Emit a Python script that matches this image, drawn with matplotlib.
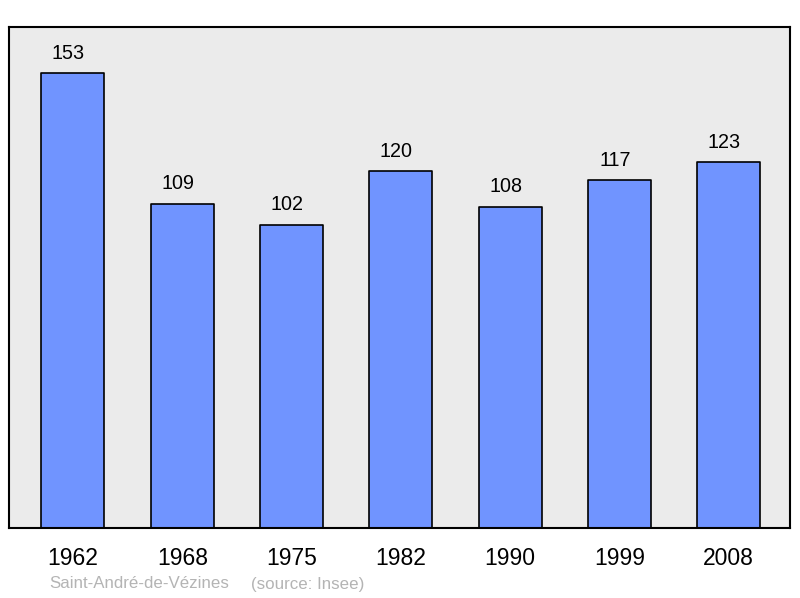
import matplotlib.pyplot as plt

plt.rcParams['font.family'] = ['Liberation Sans', 'DejaVu Sans']

years = ['1962', '1968', '1975', '1982', '1990', '1999', '2008']
population = [153, 109, 102, 120, 108, 117, 123]
place = 'Saint-André-de-Vézines'
source = '(source: Insee)'

fig = plt.figure(figsize=(8, 5.98), dpi=100)
ax = fig.add_axes([9 / 800, 70 / 598, 781 / 800, 501 / 598])
ax.set_facecolor('#ebebeb')

x = range(len(years))
ax.bar(x, population, width=0.577, color='#7094ff', edgecolor='black',
       linewidth=1.2, joinstyle='round', zorder=2)

# value labels sit a little left of the bar centre, like the original
for i, v in zip(x, population):
    ax.annotate(str(v), (i, v), xytext=(-3.2, 10.4), textcoords='offset points',
                ha='center', va='baseline', fontsize=14.2)

ax.set_xlim(-0.585, 6.56)
ax.set_ylim(0, 168.5)
ax.set_xticks(list(x))
ax.set_xticklabels(years, fontsize=16.5)
ax.tick_params(axis='x', length=0, pad=13.5)
ax.set_yticks([])
for s in ax.spines.values():
    s.set_linewidth(1.5)

fig.text(49 / 800, 1 - 584 / 598, place, color='#b4b4b4', fontsize=12.2,
         va='center', ha='left')
fig.text(251 / 800, 1 - 584 / 598, source, color='#b4b4b4', fontsize=12.2,
         va='center', ha='left')

fig.savefig('out.png', dpi=100)
